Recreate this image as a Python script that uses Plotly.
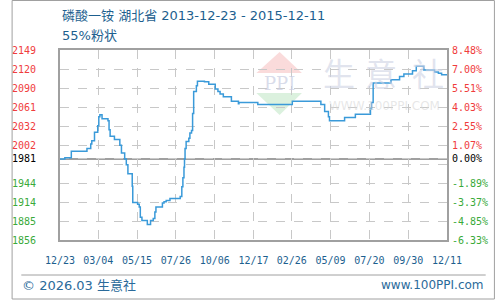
import plotly.graph_objects as go
import numpy as np

# ---------------- data ----------------
dates = ["2013-12-23", "2014-01-01", "2014-01-13", "2014-02-11", "2014-02-18", "2014-02-20",
         "2014-02-25", "2014-03-03", "2014-03-05", "2014-03-07", "2014-03-11", "2014-03-22",
         "2014-03-24", "2014-03-26", "2014-04-03", "2014-04-13", "2014-04-16", "2014-04-22",
         "2014-04-25", "2014-04-28", "2014-05-06", "2014-05-07", "2014-05-16", "2014-05-19",
         "2014-05-21", "2014-05-24", "2014-06-03", "2014-06-09", "2014-06-14", "2014-06-17",
         "2014-06-19", "2014-07-01", "2014-07-04", "2014-07-08", "2014-07-15", "2014-08-03",
         "2014-08-06", "2014-08-08", "2014-08-10", "2014-08-11", "2014-08-12", "2014-08-14",
         "2014-08-19", "2014-08-21", "2014-08-24", "2014-08-26", "2014-08-28", "2014-09-02",
         "2014-09-04", "2014-09-17", "2014-09-25", "2014-10-07", "2014-10-12", "2014-10-16",
         "2014-10-22", "2014-11-06", "2014-11-19", "2014-11-20", "2014-12-25", "2015-02-27",
         "2015-04-21", "2015-04-28", "2015-05-05", "2015-05-07", "2015-06-04", "2015-06-24",
         "2015-07-22", "2015-07-24", "2015-07-27", "2015-08-29", "2015-09-14", "2015-09-22",
         "2015-10-08", "2015-10-15", "2015-10-29", "2015-11-18", "2015-11-25", "2015-12-01",
         "2015-12-11"]
prices = [1981, 1983, 1993, 1997, 2004, 2009,
          2022, 2032, 2046, 2049, 2043, 2040,
          2026, 2016, 2011, 2002, 1990, 1981,
          1972, 1958, 1939, 1914, 1911, 1907,
          1891, 1886, 1880, 1886, 1889, 1899,
          1907, 1913, 1915, 1917, 1920, 1923,
          1938, 1952, 1968, 1981, 1997, 2008,
          2013, 2021, 2025, 2051, 2085, 2094,
          2101, 2100, 2096, 2089, 2085, 2081,
          2077, 2070, 2066, 2068, 2065, 2070,
          2065, 2054, 2046, 2040, 2045, 2050,
          2058, 2068, 2098, 2103, 2108, 2112,
          2117, 2124, 2118, 2115, 2113, 2111,
          2111]

x_tick_dates = ["2013-12-23", "2014-03-04", "2014-05-15", "2014-07-26", "2014-10-06",
                "2014-12-17", "2015-02-26", "2015-05-09", "2015-07-20", "2015-09-30", "2015-12-11"]
x_tick_labels = ["12/23", "03/04", "05/15", "07/26", "10/06", "12/17",
                 "02/26", "05/09", "07/20", "09/30", "12/11"]

y_min, y_max = 1856, 2149
base_value = 1981
y_tick_labels = ["1856", "1885", "1914", "1944", "", "2002", "2032", "2061", "2090", "2120", "2149"]
pct_tick_labels = ["-6.33%", "-4.85%", "-3.37%", "-1.89%", "", "1.07%", "2.55%", "4.03%",
                   "5.51%", "7.00%", "8.48%"]

title_text = "磷酸一铵 湖北省 2013-12-23 - 2015-12-11"
subtitle_text = "55%粉状"

# ---------------- styling ----------------
RED = "#f03c3c"
GREEN = "#3aaa3a"
BLUE_TXT = "#1d5f8f"
LINE = "#3a9ad9"
FRAME = "#a0a0a0"
GRID = "#c8c8c8"
MONO = "DejaVu Sans Mono"
SANS = "DejaVu Sans, Noto Sans CJK SC, sans-serif"

W, H = 500, 300
L, R, T, B = 50, 450, 50, 240


def px(x):
    return (x - L) / (R - L)


def py(y):
    return (B - y) / (B - T)


ytickvals = list(np.linspace(y_min, y_max, 11)) + [base_value]


def colored(labels, vals):
    out = []
    for lab, v in zip(labels, vals):
        if lab == "":
            out.append("")
        elif v > base_value:
            out.append(f"<span style='color:{RED}'>{lab}</span>")
        else:
            out.append(f"<span style='color:{GREEN}'>{lab}</span>")
    return out


left_text = colored(y_tick_labels, ytickvals[:11]) + [f"<span style='color:#000'>{base_value}</span>"]
right_text = colored(pct_tick_labels, ytickvals[:11]) + ["<span style='color:#000'>0.00%</span>"]

fig = go.Figure()
fig.add_trace(go.Scatter(x=dates, y=prices, mode="lines", line=dict(color=LINE, width=1.5, shape="hv"),
                         hoverinfo="skip", showlegend=False))
fig.add_trace(go.Scatter(x=dates, y=prices, mode="lines", line=dict(color="rgba(0,0,0,0)", width=0),
                         yaxis="y2", hoverinfo="skip", showlegend=False))

fig.update_layout(
    width=W, height=H,
    margin=dict(l=L, r=W - R, t=T, b=H - B, pad=0),
    paper_bgcolor="white", plot_bgcolor="white",
    showlegend=False,
    xaxis=dict(
        range=[x_tick_dates[0], x_tick_dates[-1]], type="date",
        tickvals=x_tick_dates, ticktext=x_tick_labels,
        tickfont=dict(family=MONO, size=10, color=BLUE_TXT),
        showgrid=True, gridcolor=GRID, griddash="dash", gridwidth=1,
        showline=True, linecolor=FRAME, linewidth=2, mirror=True,
        ticks="", ticklabelstandoff=10, zeroline=False,
    ),
    yaxis=dict(
        range=[y_min, y_max], tickvals=ytickvals, ticktext=left_text,
        tickfont=dict(family=MONO, size=10),
        showgrid=True, gridcolor=GRID, griddash="dash", gridwidth=1,
        showline=True, linecolor=FRAME, linewidth=2, mirror=True,
        ticks="", ticklabelstandoff=20, zeroline=False,
    ),
    yaxis2=dict(
        range=[y_min, y_max], tickvals=ytickvals, ticktext=right_text,
        tickfont=dict(family=MONO, size=10), overlaying="y", side="right",
        showgrid=False, showline=False, ticks="", ticklabelstandoff=4, zeroline=False,
    ),
)

shapes = []
# baseline
shapes.append(dict(type="line", xref="paper", yref="y", x0=0, x1=1, y0=base_value, y1=base_value,
                   line=dict(color=FRAME, width=2), layer="below"))
# outer border
shapes.append(dict(type="rect", xref="paper", yref="paper", x0=px(0.5), x1=px(499), y0=py(299), y1=py(0.5),
                   line=dict(color=FRAME, width=1)))
# footer separator
shapes.append(dict(type="line", xref="paper", yref="paper", x0=px(10), x1=px(490), y0=py(275), y1=py(275),
                   line=dict(color=FRAME, width=1)))
# watermark logo triangles
shapes.append(dict(type="path", xref="paper", yref="paper",
                   path=f"M {px(253)} {py(73)} L {px(277)} {py(52)} L {px(300)} {py(73)} Z",
                   fillcolor="rgba(245,190,190,0.55)", line=dict(width=0), layer="below"))
shapes.append(dict(type="path", xref="paper", yref="paper",
                   path=f"M {px(253)} {py(93)} L {px(300)} {py(93)} L {px(277)} {py(115)} Z",
                   fillcolor="rgba(190,230,195,0.55)", line=dict(width=0), layer="below"))
fig.update_layout(shapes=shapes)

ann = []
ann.append(dict(text=title_text, x=px(50), y=py(15), xref="paper", yref="paper", xanchor="left",
                yanchor="middle", showarrow=False, font=dict(family=SANS, size=13, color=BLUE_TXT)))
ann.append(dict(text=subtitle_text, x=px(50), y=py(35), xref="paper", yref="paper", xanchor="left",
                yanchor="middle", showarrow=False, font=dict(family=SANS, size=13, color=BLUE_TXT)))
ann.append(dict(text="© 2026.03 生意社", x=px(9), y=py(285), xref="paper", yref="paper", xanchor="left",
                yanchor="middle", showarrow=False, font=dict(family=SANS, size=13, color="#2a6a9a")))
ann.append(dict(text="www.100PPI.com", x=px(490), y=py(285), xref="paper", yref="paper", xanchor="right",
                yanchor="middle", showarrow=False, font=dict(family=SANS, size=12, color="#2a6a9a")))
# watermark texts
ann.append(dict(text="PPI", x=px(277), y=py(83), xref="paper", yref="paper", xanchor="center",
                yanchor="middle", showarrow=False, font=dict(family="DejaVu Serif", size=18, color="rgba(200,205,225,0.7)")))
for ch, cx in zip("生意社", [338, 382, 430]):
    ann.append(dict(text=ch, x=px(cx), y=py(72), xref="paper", yref="paper", xanchor="center",
                    yanchor="middle", showarrow=False,
                    font=dict(family="Noto Sans CJK SC", size=32, color="rgba(205,210,228,0.6)")))
ann.append(dict(text="WWW.100PPI.COM", x=px(326), y=py(106), xref="paper", yref="paper", xanchor="left",
                yanchor="middle", showarrow=False, font=dict(family="DejaVu Sans", size=12, color="rgba(215,215,215,0.6)")))
fig.update_layout(annotations=ann)

fig.write_html("out.html")
